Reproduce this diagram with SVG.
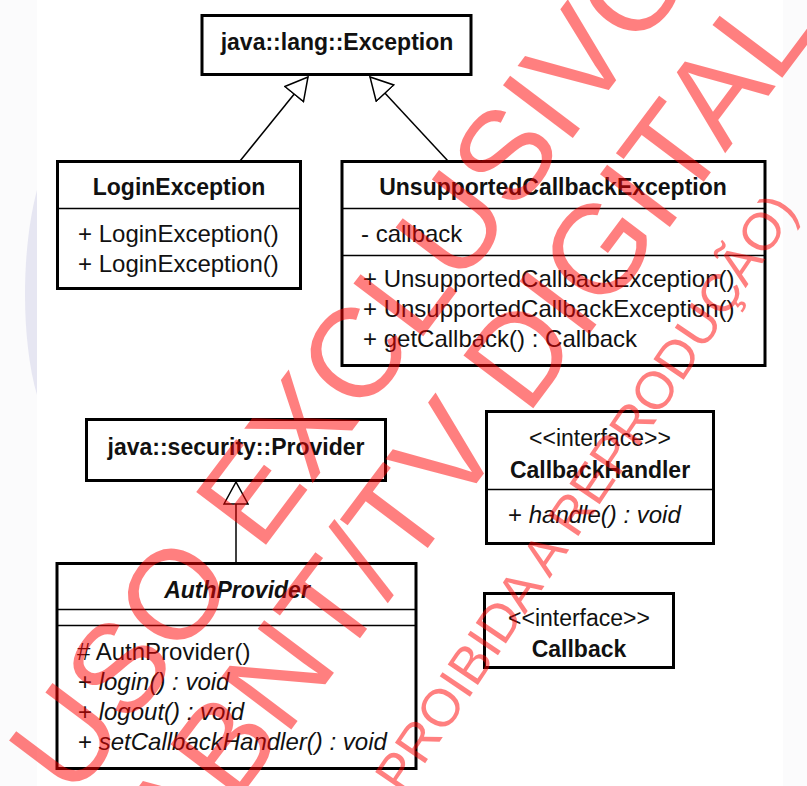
<svg xmlns="http://www.w3.org/2000/svg" width="807" height="786" viewBox="0 0 807 786">
  <style>
    .box { fill: #fff; stroke: #000; stroke-width: 3; }
    .div { stroke: #000; stroke-width: 1.5; fill: none; }
    .t { font-family: "Liberation Sans", Arial, sans-serif; font-size: 24px; fill: #111; }
    .b { font-weight: bold; font-size: 23px; text-anchor: middle; }
    .st { font-size: 23px; text-anchor: middle; }
    .i { font-style: italic; }
    .edge { stroke: #000; stroke-width: 1.5; fill: none; marker-end: url(#gen); }
    .wm { font-family: "Liberation Sans", Arial, sans-serif; fill: #ff0000; fill-opacity: 0.5; }
  </style>
  <defs>
    <marker id="gen" markerUnits="userSpaceOnUse" viewBox="0 0 24 26" refX="23" refY="13" markerWidth="24" markerHeight="26" orient="auto">
      <path d="M1,1 L23,13 L1,25 Z" fill="#fff" stroke="#000" stroke-width="1.5"/>
    </marker>
  </defs>

  <rect x="0" y="0" width="807" height="786" fill="#fbfbfc"/>
  <rect x="37" y="0" width="746" height="786" fill="#fff"/>
  <path d="M37,190 C21,250 21,340 37,395 Z" fill="#e6e6f2"/>

  <g id="connectors">
    <line class="edge" x1="240" y1="161" x2="308" y2="77"/>
    <line class="edge" x1="448" y1="161" x2="370" y2="77"/>
    <line class="edge" x1="236" y1="562" x2="236" y2="482"/>
  </g>

  <g id="java-lang-Exception">
    <rect class="box" x="202" y="15.5" width="269" height="59"/>
    <text class="t b" x="337" y="50">java::lang::Exception</text>
  </g>

  <g id="LoginException">
    <rect class="box" x="57.5" y="161.5" width="243" height="127"/>
    <line class="div" x1="57.5" y1="208.5" x2="300.5" y2="208.5"/>
    <text class="t b" x="179" y="195">LoginException</text>
    <text class="t" x="78" y="242">+ LoginException()</text>
    <text class="t" x="78" y="272">+ LoginException()</text>
  </g>

  <g id="UnsupportedCallbackException">
    <rect class="box" x="342" y="161.5" width="423" height="204"/>
    <line class="div" x1="342" y1="208.5" x2="765" y2="208.5"/>
    <line class="div" x1="342" y1="255.5" x2="765" y2="255.5"/>
    <text class="t b" x="553" y="195">UnsupportedCallbackException</text>
    <text class="t" x="361" y="242">- callback</text>
    <text class="t" x="363" y="287">+ UnsupportedCallbackException()</text>
    <text class="t" x="363" y="317">+ UnsupportedCallbackException()</text>
    <text class="t" x="363" y="347">+ getCallback() : Callback</text>
  </g>

  <g id="java-security-Provider">
    <rect class="box" x="86.5" y="419.5" width="299" height="61"/>
    <text class="t b" x="236" y="455">java::security::Provider</text>
  </g>

  <g id="AuthProvider">
    <rect class="box" x="57" y="563.5" width="359" height="205"/>
    <line class="div" x1="57" y1="609.5" x2="416" y2="609.5"/>
    <line class="div" x1="57" y1="625.5" x2="416" y2="625.5"/>
    <text class="t b i" x="237" y="598">AuthProvider</text>
    <text class="t" x="77" y="660"># AuthProvider()</text>
    <text class="t" x="78" y="690">+ <tspan class="i">login() : void</tspan></text>
    <text class="t" x="78" y="720">+ <tspan class="i">logout() : void</tspan></text>
    <text class="t" x="78" y="750">+ <tspan class="i">setCallbackHandler() : void</tspan></text>
  </g>

  <g id="CallbackHandler">
    <rect class="box" x="486.5" y="411.5" width="227" height="132"/>
    <line class="div" x1="486.5" y1="489.5" x2="713.5" y2="489.5"/>
    <text class="t st" x="600" y="446">&lt;&lt;interface&gt;&gt;</text>
    <text class="t b" x="600" y="478">CallbackHandler</text>
    <text class="t" x="508" y="523">+ <tspan class="i">handle() : void</tspan></text>
  </g>

  <g id="Callback">
    <rect class="box" x="484.5" y="593.5" width="189" height="74"/>
    <text class="t st" x="579" y="626">&lt;&lt;interface&gt;&gt;</text>
    <text class="t b" x="579" y="657">Callback</text>
  </g>

  <g id="watermark">
    <text class="wm" font-size="127" transform="translate(73,801) rotate(-53)">USO EXCLUSIVO</text>
    <text class="wm" font-size="127" transform="translate(183,873) rotate(-53)">ABNT/TV DIGITAL</text>
    <text class="wm" font-size="53" transform="translate(403,796) rotate(-56)">PROIBIDA A REPRODUÇÃO)</text>
  </g>
</svg>
